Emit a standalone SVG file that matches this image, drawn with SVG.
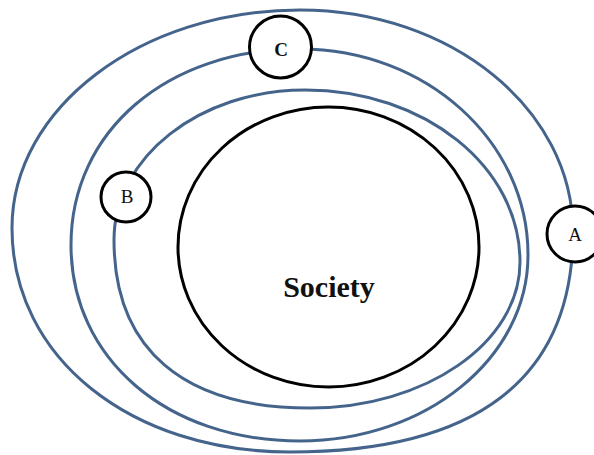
<svg xmlns="http://www.w3.org/2000/svg" width="594" height="455" viewBox="0 0 594 455">
<style>
.ring{fill:none;stroke:#45648c;stroke-width:3}
.node{fill:#fff;stroke:#000;stroke-width:3}
.lbl{font-family:"Liberation Serif","Times New Roman",serif;font-size:19px;fill:#111;text-anchor:middle}
</style>
<rect width="594" height="455" fill="#fff"/>
<g id="connectors">
<path class="ring" d="M300,10 C451,10 573,109 573,232 C573,380 475,452 290,452 C131,452 12,358 12,228 C12,108 141,10 300,10 Z"/>
<path class="ring" d="M300,49 C426,49 528,141 528,255 C528,358 426,441 300,441 C167,441 71,359 71,245 C71,131 167,49 300,49 Z"/>
<path class="ring" d="M305,90 C425,90 520,167 520,262 C520,343 425,408 310,408 C183,408 114,349 114,240 C114,157 200,90 305,90 Z"/>
</g>
<g id="society">
<ellipse cx="328.5" cy="247" rx="150.5" ry="140" fill="none" stroke="#000" stroke-width="3"/>
<text x="329" y="297" font-family="'Liberation Serif','Times New Roman',serif" font-size="30" font-weight="bold" text-anchor="middle" fill="#111">Society</text>
</g>
<g id="nodeC">
<circle class="node" cx="280.5" cy="47" r="31"/>
<text class="lbl" x="281" y="56" font-weight="bold">C</text>
</g>
<g id="nodeB">
<circle class="node" cx="126" cy="197" r="25"/>
<text class="lbl" x="127" y="203">B</text>
</g>
<g id="nodeA">
<circle class="node" cx="575" cy="234" r="28"/>
<text class="lbl" x="575" y="241">A</text>
</g>
</svg>
